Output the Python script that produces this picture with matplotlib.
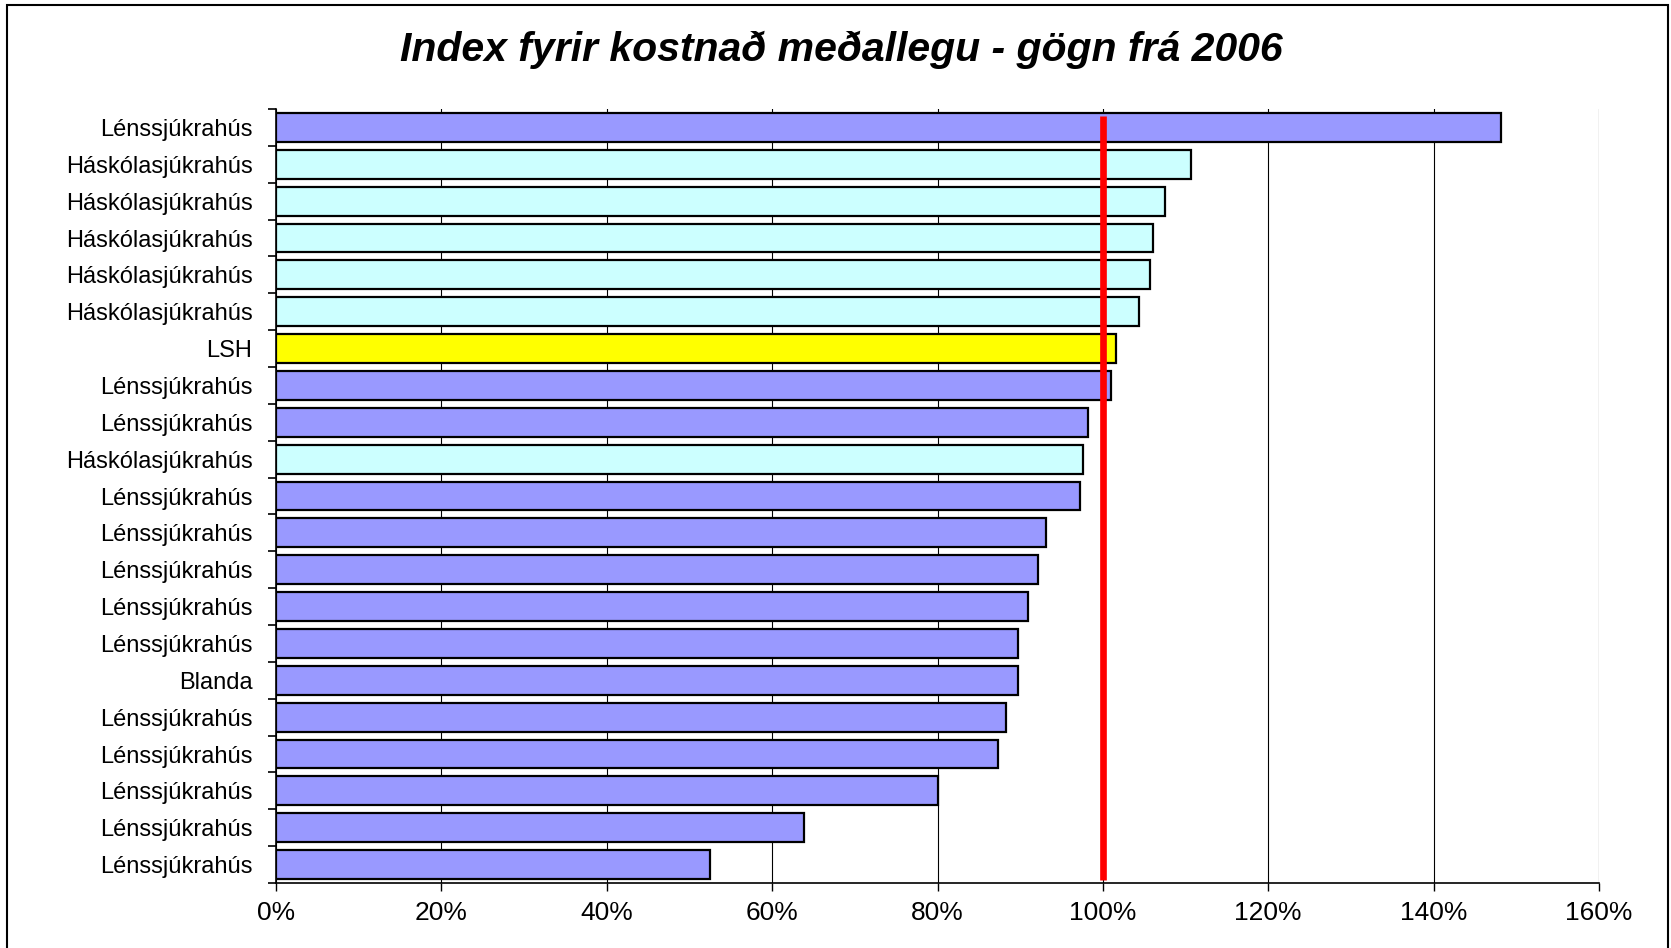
import matplotlib
matplotlib.use("Agg")
import matplotlib.pyplot as plt
from matplotlib.patches import Rectangle
from matplotlib.ticker import FixedLocator, PercentFormatter

plt.rcParams["font.family"] = ["Liberation Sans", "DejaVu Sans"]

# data, top to bottom as in the chart
labels = [
    "Lénssjúkrahús", "Háskólasjúkrahús", "Háskólasjúkrahús", "Háskólasjúkrahús",
    "Háskólasjúkrahús", "Háskólasjúkrahús", "LSH", "Lénssjúkrahús", "Lénssjúkrahús",
    "Háskólasjúkrahús", "Lénssjúkrahús", "Lénssjúkrahús", "Lénssjúkrahús",
    "Lénssjúkrahús", "Lénssjúkrahús", "Blanda", "Lénssjúkrahús", "Lénssjúkrahús",
    "Lénssjúkrahús", "Lénssjúkrahús", "Lénssjúkrahús",
]
values = [
    1.481, 1.106, 1.075, 1.061, 1.057, 1.044, 1.016, 1.010, 0.982, 0.976, 0.972,
    0.931, 0.921, 0.910, 0.897, 0.897, 0.883, 0.873, 0.801, 0.638, 0.525,
]
reference_level = 1.0

colors = {
    "Lénssjúkrahús": "#9999FF",
    "Blanda": "#9999FF",
    "Háskólasjúkrahús": "#CCFFFF",
    "LSH": "#FFFF00",
}

n = len(labels)
ypos = list(range(n - 1, -1, -1))  # first item at top

fig = plt.figure(figsize=(16.71, 9.48), dpi=100)
ax = fig.add_axes([276 / 1671, 1 - 883 / 948, (1599 - 276) / 1671, (883 - 109) / 948])

ax.barh(ypos, values, height=0.78, color=[colors[l] for l in labels],
        edgecolor="black", linewidth=1.6, zorder=3)

# red reference line at 100%
ax.vlines(reference_level, -0.43, n - 1 + 0.3, color="#FF0000", linewidth=4.8, zorder=4)

ax.set_xlim(0, 1.6)
ax.set_ylim(-0.5, n - 0.5)
ax.xaxis.set_major_locator(FixedLocator([i * 0.2 for i in range(9)]))
ax.xaxis.set_major_formatter(PercentFormatter(xmax=1.0, decimals=0))
ax.grid(axis="x", color="black", linewidth=0.8, zorder=0)

# category labels centered on bars, ticks on boundaries (Excel style)
ax.set_yticks(ypos)
ax.set_yticklabels(labels)
ax.yaxis.set_minor_locator(FixedLocator([i - 0.5 for i in range(n + 1)]))
ax.tick_params(axis="y", which="major", length=0, pad=17, labelsize=17)
ax.tick_params(axis="y", which="minor", length=6, width=1.2, color="black")
ax.tick_params(axis="x", which="major", length=6, width=1.0, pad=7, labelsize=19)

for side in ("top", "right"):
    ax.spines[side].set_visible(False)
ax.spines["left"].set_linewidth(1.2)
ax.spines["bottom"].set_linewidth(1.2)

fig.text(841 / 1671, 1 - 50 / 948, "Index fyrir kostnað meðallegu - gögn frá 2006",
         ha="center", va="center", fontsize=29.5, fontweight="bold", fontstyle="italic")

# chart area frame
fig.patches.append(Rectangle((7 / 1671, -0.01), 1661 / 1671, 1 - 5 / 948 + 0.01,
                             transform=fig.transFigure, fill=False,
                             edgecolor="black", linewidth=1.5))

fig.savefig("out.png", dpi=100)
